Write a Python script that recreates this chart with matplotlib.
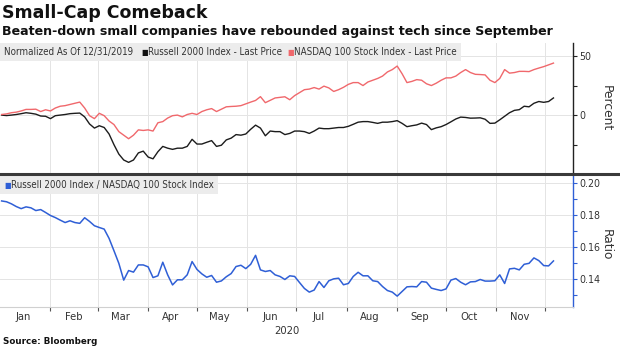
import os
import pandas as pd
import matplotlib
matplotlib.use("Agg")
import matplotlib.pyplot as plt
from matplotlib import font_manager
from matplotlib.font_manager import FontProperties
from matplotlib.lines import Line2D
from matplotlib.offsetbox import TextArea, HPacker, AnchoredOffsetbox

# ---- data: values every third calendar day from 2 Jan 2020 ----
dates = pd.date_range("2020-01-02", periods=114, freq="3D")

# Russell 2000, % change since 31 Dec 2019
russell_pct = [
    0.0, -0.4, 0.0, 0.5, 1.2, 2.0, 1.5, 0.8, -0.8, -1.0,
    -3.0, -0.5, 0.0, 0.5, 1.2, 1.5, 1.7, -1.5, -7.5, -11.0,
    -9.0, -10.5, -16.0, -25.0, -33.0, -38.0, -40.0, -38.0, -32.0, -30.5,
    -35.5, -37.0, -31.0, -26.5, -28.0, -29.0, -28.0, -28.0, -26.5, -20.5,
    -24.5, -24.5, -23.0, -21.6, -26.5, -25.5, -21.0, -19.5, -16.5, -17.0,
    -16.0, -12.0, -8.5, -11.0, -17.5, -13.5, -14.0, -14.0, -16.5, -15.5,
    -13.5, -13.5, -14.0, -15.5, -13.5, -11.0, -11.5, -11.5, -11.0, -10.5,
    -10.5, -9.5, -7.8, -6.0, -5.5, -5.5, -6.2, -7.0, -6.0, -6.0,
    -5.5, -4.7, -7.0, -9.8, -9.0, -8.3, -6.8, -8.0, -12.3, -10.8,
    -9.8, -8.0, -5.7, -3.3, -1.7, -2.0, -2.6, -2.5, -2.3, -3.5,
    -7.0, -6.8, -4.0, -1.0, 2.0, 4.0, 4.6, 7.5, 7.0, 10.0,
    11.5, 10.8, 11.5, 14.5,
]

# NASDAQ 100, % change since 31 Dec 2019
nasdaq_pct = [
    0.5, 1.0, 2.0, 2.5, 3.5, 4.8, 4.8, 5.0, 3.0, 4.5,
    3.5, 6.0, 7.5, 8.0, 9.0, 10.0, 11.0, 6.0, -0.5, -3.0,
    1.5, -0.5, -5.0, -8.0, -14.0, -17.0, -20.0, -17.0, -12.5, -13.0,
    -12.5, -13.5, -6.5, -5.5, -2.5, -0.5, 0.0, -1.5, 0.5, 1.5,
    0.5, 3.0, 4.5, 5.5, 3.0, 5.0, 7.0, 7.3, 7.5, 8.0,
    9.5, 11.0, 12.4, 15.6, 10.5, 12.5, 14.5, 15.0, 15.5, 13.0,
    16.5, 19.0, 21.5, 22.0, 23.3, 22.0, 24.5, 23.0, 20.0, 21.5,
    23.5, 26.0, 27.5, 27.5, 25.0, 28.0, 29.5, 31.0, 33.0, 36.5,
    38.5, 41.5, 35.0, 27.5, 28.5, 30.0, 29.5, 26.5, 25.0, 27.0,
    29.5, 31.5, 31.5, 33.0, 36.0, 38.5, 36.0, 34.5, 34.3, 34.0,
    29.5, 27.5, 31.0, 38.5, 35.5, 36.0, 37.0, 37.0, 36.8, 38.5,
    39.8, 41.0, 42.5, 44.0,
]

# Russell 2000 / NASDAQ 100 price ratio
ratio = [
    0.1890, 0.1885, 0.1872, 0.1855, 0.1842, 0.1853, 0.1847, 0.1830, 0.1836, 0.1818,
    0.1799, 0.1786, 0.1770, 0.1755, 0.1766, 0.1755, 0.1750, 0.1785, 0.1762, 0.1735,
    0.1724, 0.1714, 0.1656, 0.1579, 0.1500, 0.1395, 0.1455, 0.1445, 0.1490, 0.1490,
    0.1478, 0.1411, 0.1422, 0.1507, 0.1428, 0.1365, 0.1397, 0.1397, 0.1428, 0.1511,
    0.1462, 0.1434, 0.1413, 0.1424, 0.1382, 0.1390, 0.1416, 0.1436, 0.1480, 0.1488,
    0.1467, 0.1494, 0.1550, 0.1459, 0.1449, 0.1455, 0.1428, 0.1418, 0.1399, 0.1422,
    0.1418, 0.1380, 0.1343, 0.1320, 0.1333, 0.1386, 0.1349, 0.1391, 0.1403, 0.1407,
    0.1366, 0.1374, 0.1418, 0.1444, 0.1422, 0.1422, 0.1391, 0.1386, 0.1355, 0.1330,
    0.1320, 0.1295, 0.1324, 0.1353, 0.1355, 0.1353, 0.1386, 0.1382, 0.1345, 0.1337,
    0.1330, 0.1340, 0.1395, 0.1405, 0.1382, 0.1366, 0.1384, 0.1386, 0.1399, 0.1389,
    0.1389, 0.1391, 0.1428, 0.1374, 0.1465, 0.1469, 0.1459, 0.1494, 0.1500, 0.1534,
    0.1517, 0.1486, 0.1484, 0.1515,
]

month_labels = ["Jan", "Feb", "Mar", "Apr", "May", "Jun",
                "Jul", "Aug", "Sep", "Oct", "Nov"]
year_label = "2020"
pct_ticks = [0, 50]
ratio_ticks = [0.14, 0.16, 0.18, 0.20]

# ---- style ----
RED = "#f0686c"
BLACK = "#1c1c1c"
BLUE = "#2f5fd6"
TEXT = "#333333"
GRID = "#e4e4e4"


def find_font(basenames):
    for f in font_manager.fontManager.ttflist:
        if os.path.basename(f.fname) in basenames:
            return f.fname
    return None


# prefer a narrow face for the axis and key text
narrow_file = find_font({"LiberationSansNarrow-Regular.ttf"})
if narrow_file:
    tick_fs, leg_fs, month_fs = 8.3, 8.4, 8.6
else:
    narrow_file = find_font({"DejaVuSansCondensed.ttf"})
    if narrow_file:
        tick_fs, leg_fs, month_fs = 7.6, 7.0, 8.0
    else:
        narrow_file = find_font({"LiberationSans-Regular.ttf"})
        tick_fs, leg_fs, month_fs = 7.7, 7.1, 8.0


def narrow(size):
    if narrow_file:
        return FontProperties(fname=narrow_file, size=size)
    return FontProperties(family="DejaVu Sans", size=size)


plt.rcParams["font.family"] = ["DejaVu Sans"]

W, H = 620, 348
fig = plt.figure(figsize=(W / 100, H / 100), dpi=100)


def px_box(left, top, right, bottom):
    return [left / W, 1 - bottom / H, (right - left) / W, (bottom - top) / H]


ax1 = fig.add_axes(px_box(0, 43, 573, 173))
ax2 = fig.add_axes(px_box(0, 176, 573, 307))

x0, x1 = pd.Timestamp("2020-01-01"), pd.Timestamp("2020-12-18")
month_starts = pd.date_range("2020-02-01", "2020-12-01", freq="MS")
mid_months = [pd.Timestamp(2020, m + 1, 15) for m in range(len(month_labels))]

# ---- top panel: normalized prices ----
ax1.plot(dates, russell_pct, color=BLACK, lw=1.0)
ax1.plot(dates, nasdaq_pct, color=RED, lw=1.0)
ax1.set_xlim(x0, x1)
ax1.set_ylim(-49, 61)
ax1.yaxis.tick_right()
ax1.set_yticks(pct_ticks)
ax1.set_yticks([-25, 25], minor=True)
ax1.set_xticks(month_starts)
ax1.tick_params(axis="x", which="both", length=0, labelbottom=False)
ax1.tick_params(axis="y", which="both", direction="out", length=3,
                width=0.8, color="#222222", labelcolor=TEXT, pad=1.5)
for lbl in ax1.get_yticklabels():
    lbl.set_fontproperties(narrow(tick_fs))
ax1.grid(axis="x", color=GRID, lw=0.7)
ax1.grid(axis="y", which="major", color=GRID, lw=0.7)
for s in ("left", "top", "bottom"):
    ax1.spines[s].set_visible(False)
ax1.spines["right"].set_color("#222222")
ax1.spines["right"].set_linewidth(1.0)

# ---- bottom panel: ratio ----
ax2.plot(dates, ratio, color=BLUE, lw=1.1)
ax2.set_xlim(x0, x1)
ax2.set_ylim(0.1227, 0.2046)
ax2.yaxis.tick_right()
ax2.set_yticks(ratio_ticks)
ax2.set_yticklabels([f"{v:.2f}" for v in ratio_ticks])
ax2.set_yticks([0.13, 0.15, 0.17, 0.19], minor=True)
ax2.tick_params(axis="y", which="both", direction="out", length=3,
                width=0.8, color=BLUE, labelcolor=TEXT, pad=1.5)
for lbl in ax2.get_yticklabels():
    lbl.set_fontproperties(narrow(tick_fs))
ax2.set_xticks(month_starts)
ax2.set_xticks(mid_months, month_labels, minor=True)
ax2.tick_params(axis="x", which="major", direction="out", length=3,
                width=0.8, color="#555555", labelbottom=False)
ax2.tick_params(axis="x", which="minor", length=0, labelcolor=TEXT, pad=3.5)
for lbl in ax2.get_xticklabels(minor=True):
    lbl.set_fontproperties(narrow(month_fs))
ax2.grid(axis="x", which="major", color=GRID, lw=0.7)
ax2.grid(axis="y", which="major", color=GRID, lw=0.7)
for s in ("left", "top"):
    ax2.spines[s].set_visible(False)
ax2.spines["bottom"].set_color("#d0d0d0")
ax2.spines["right"].set_color(BLUE)
ax2.spines["right"].set_linewidth(1.0)

# divider between the panels
fig.add_artist(Line2D([0, 1], [1 - 174.5 / H] * 2, transform=fig.transFigure,
                      color="#3a3a3a", lw=2.2))


def legend_strip(ax, parts):
    areas = []
    for text, color, scale in parts:
        areas.append(TextArea(text, textprops=dict(
            color=color, fontproperties=narrow(leg_fs * scale))))
    pack = HPacker(children=areas, align="baseline", pad=0, sep=0)
    box = AnchoredOffsetbox(loc="upper left", child=pack, pad=0.3,
                            borderpad=0, frameon=True,
                            bbox_to_anchor=(0, 1),
                            bbox_transform=ax.transAxes)
    box.patch.set_facecolor("#ececec")
    box.patch.set_edgecolor("none")
    ax.add_artist(box)


legend_strip(ax1, [
    ("Normalized As Of 12/31/2019   ", TEXT, 1.0),
    ("\u25a0", "#111111", 0.8),
    ("Russell 2000 Index - Last Price  ", TEXT, 1.0),
    ("\u25a0", RED, 0.8),
    ("NASDAQ 100 Stock Index - Last Price", TEXT, 1.0),
])
legend_strip(ax2, [
    ("\u25a0", BLUE, 0.8),
    ("Russell 2000 Index / NASDAQ 100 Stock Index", TEXT, 1.0),
])

# axis titles on the right
fig.text(606 / W, 1 - 108 / H, "Percent", rotation=270, ha="center",
         va="center", fontsize=8.8, color=TEXT)
fig.text(606 / W, 1 - 245 / H, "Ratio", rotation=270, ha="center",
         va="center", fontsize=8.8, color=TEXT)
fig.text(287 / W, 1 - 331 / H, year_label, ha="center", va="center",
         color=TEXT, fontproperties=narrow(month_fs))

# headline, subhead, source
fig.text(2 / W, 1 - 13 / H, "Small-Cap Comeback", ha="left", va="center",
         fontsize=12.5, fontweight="bold", color="#111111")
fig.text(2 / W, 1 - 32 / H,
         "Beaten-down small companies have rebounded against tech since September",
         ha="left", va="center", fontsize=9.1, fontweight="bold",
         color="#111111")
fig.text(3 / W, 1 - 342 / H, "Source: Bloomberg", ha="left", va="center",
         fontsize=6.3, fontweight="bold", color="#111111")

fig.savefig("out.png", dpi=100, facecolor="white")
